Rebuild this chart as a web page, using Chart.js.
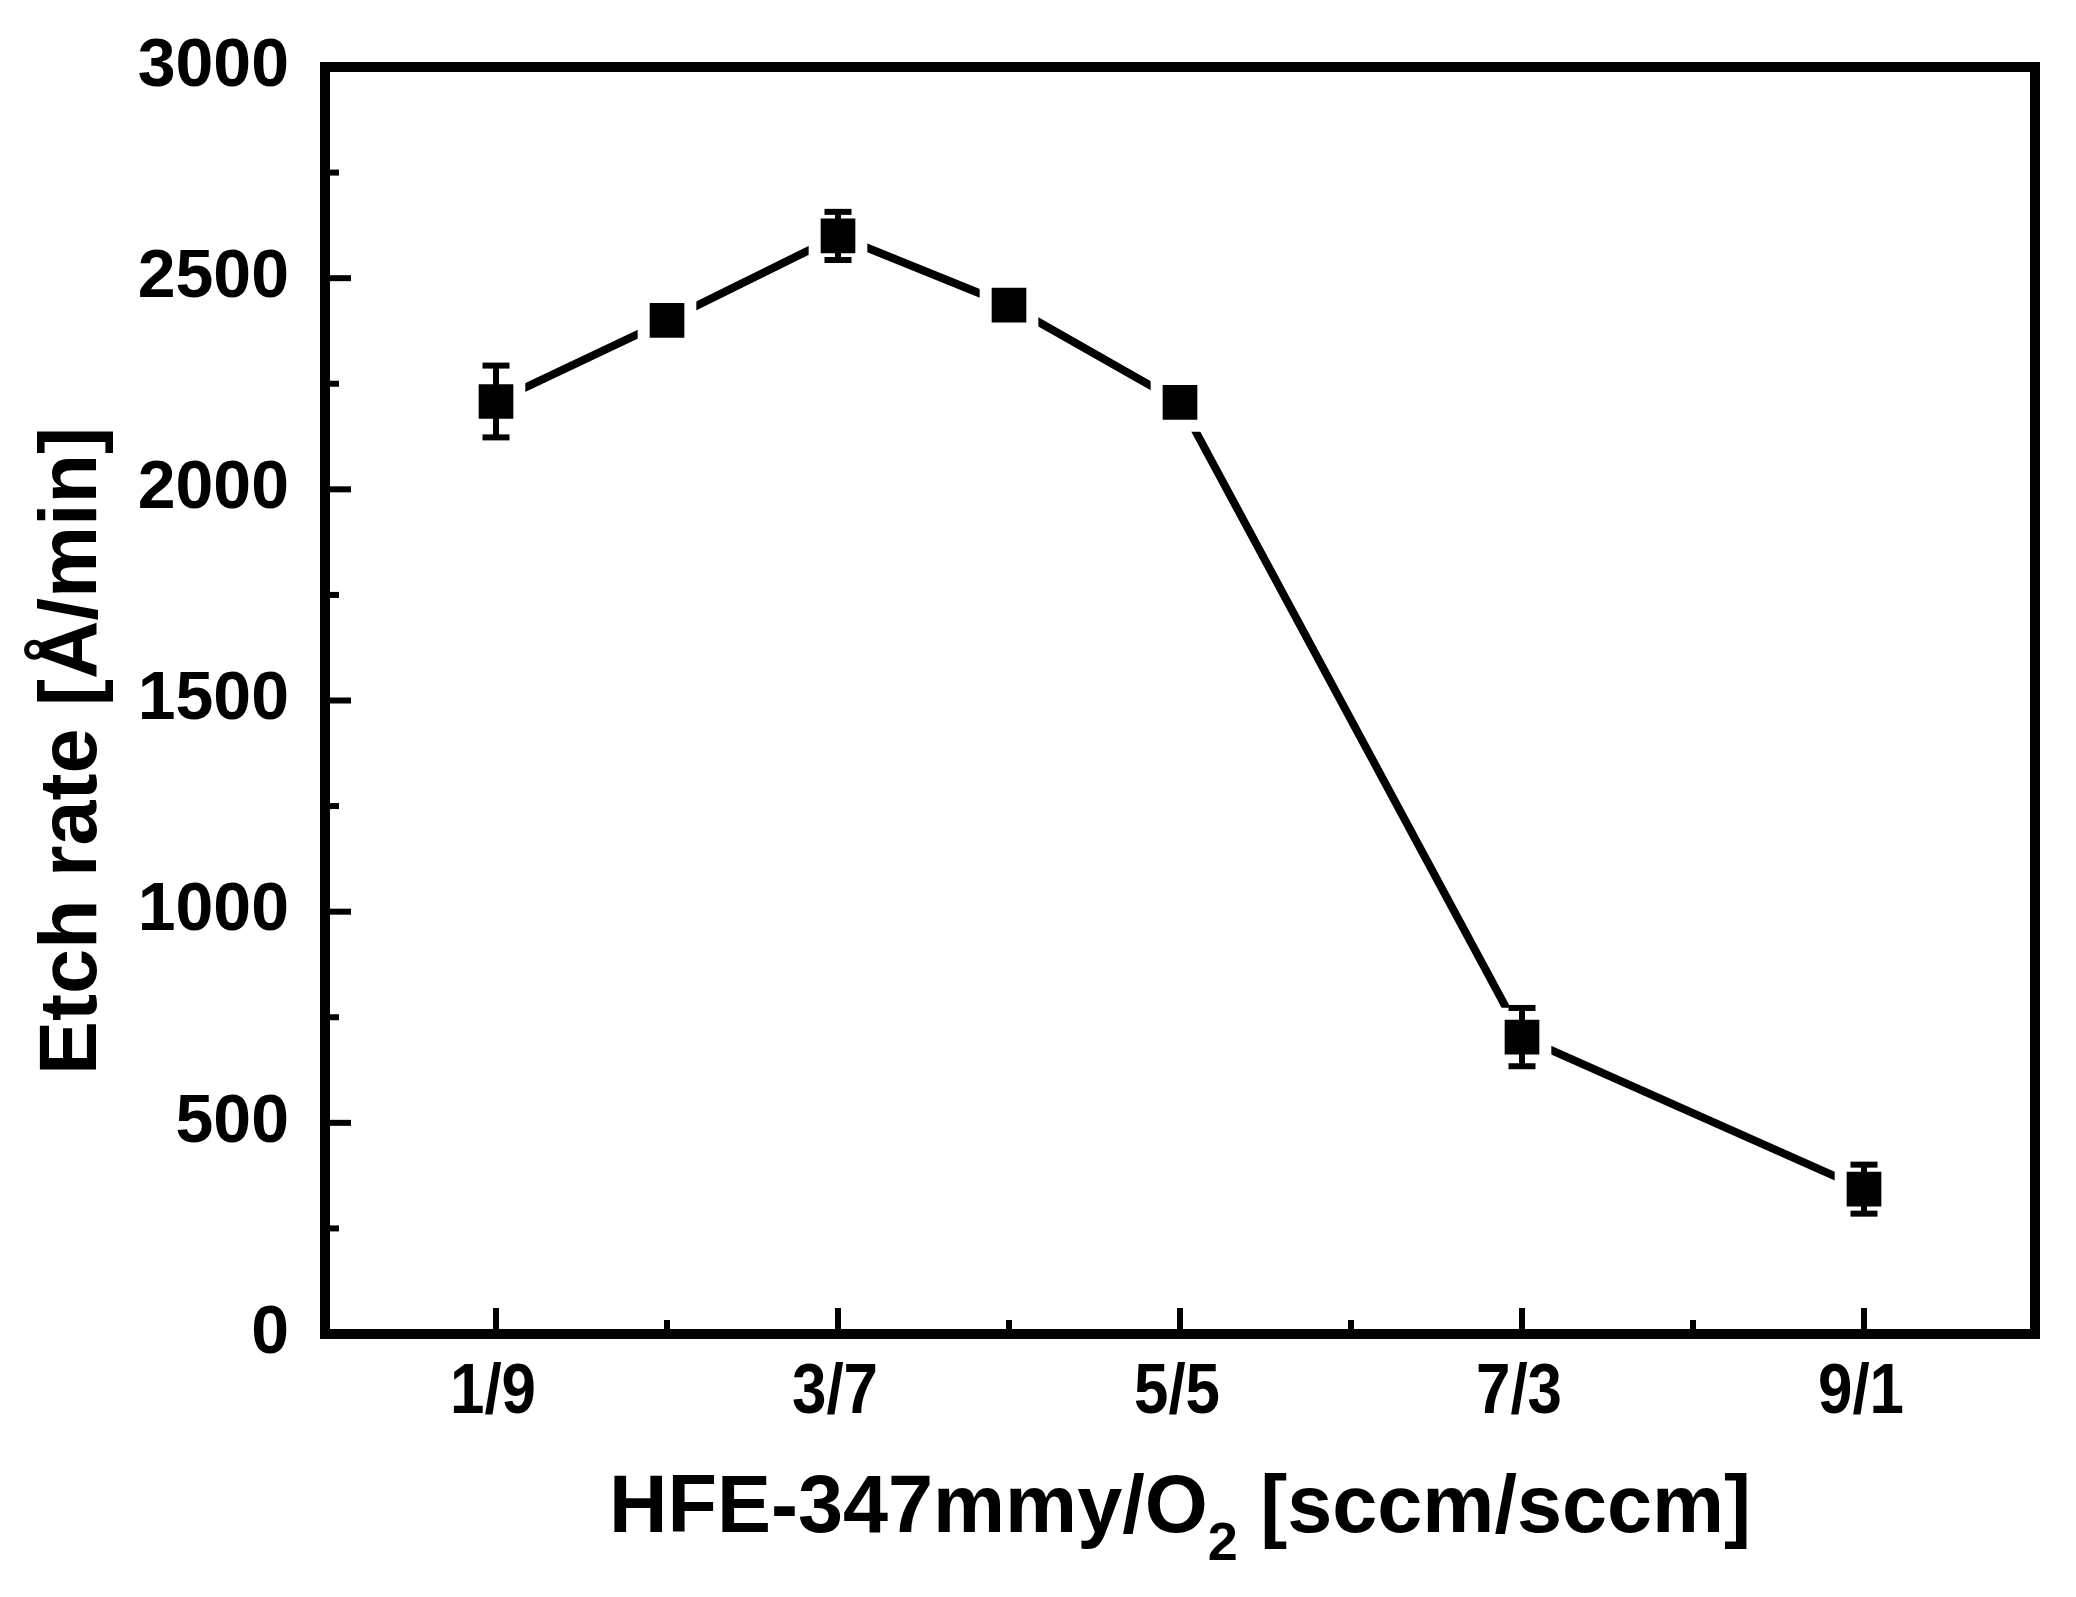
<!DOCTYPE html>
<html><head><meta charset="utf-8">
<script src="https://cdn.jsdelivr.net/npm/chart.js@4.4.1/dist/chart.umd.min.js"></script>
<style>html,body{margin:0;padding:0;background:#fff;overflow:hidden}#wrap{width:2076px;height:1597px;position:relative}</style>
</head><body><div id="wrap"><canvas id="c"></canvas></div>
<script>
// ---- data ----
const xPositions = [1, 2, 3, 4, 5, 7, 9];
const etchRate   = [2208, 2400, 2600, 2436, 2206, 703, 343];
const etchErr    = [85, 20, 57, 20, 25, 69, 58];
const xTickValues = [1, 3, 5, 7, 9];
const xTickLabels = ['1/9', '3/7', '5/5', '7/3', '9/1'];
const xMinorTicks = [2, 4, 6, 8];
const yMinorTicks = [250, 750, 1250, 1750, 2250, 2750];
const xTitleMain = 'HFE-347mmy/O';
const xTitleSub = '2';
const xTitleTail = ' [sccm/sccm]';
const yTitle = 'Etch rate [Å/min]';

const SANS = "'Liberation Sans',Arial,sans-serif";

// draw text condensed horizontally into a given width
function drawFit(ctx, text, x, y, targetW) {
  ctx.save();
  const nat = ctx.measureText(text).width;
  ctx.translate(x, y);
  ctx.scale(Math.min(1, targetW / nat), 1);
  ctx.fillText(text, 0, 0);
  ctx.restore();
}

const framePlugin = {
  id: 'frame',
  beforeDatasetsDraw(chart) {
    const {ctx, chartArea: a, scales: {x, y}} = chart;
    ctx.save();
    ctx.strokeStyle = '#000';
    ctx.fillStyle = '#000';
    const majL = 26, minL = 14, tw = 6;
    y.ticks.forEach(t => {
      const py = y.getPixelForValue(t.value);
      ctx.fillRect(a.left, py - tw / 2, majL, tw);
    });
    yMinorTicks.forEach(v => {
      const py = y.getPixelForValue(v);
      ctx.fillRect(a.left, py - tw / 2, minL, tw);
    });
    xTickValues.forEach(v => {
      const px = x.getPixelForValue(v);
      ctx.fillRect(px - tw / 2, a.bottom - majL, tw, majL);
    });
    xMinorTicks.forEach(v => {
      const px = x.getPixelForValue(v);
      ctx.fillRect(px - tw / 2, a.bottom - minL, tw, minL);
    });
    ctx.lineWidth = 10;
    ctx.lineJoin = 'miter';
    ctx.strokeRect(a.left, a.top, a.right - a.left, a.bottom - a.top);
    ctx.restore();
  }
};

const errorBarPlugin = {
  id: 'errbars',
  afterDatasetsDraw(chart) {
    const {ctx, scales: {x, y}} = chart;
    ctx.save();
    ctx.fillStyle = '#000';
    const sw = 6, capW = 27, capH = 6;
    xPositions.forEach((xv, i) => {
      const px = x.getPixelForValue(xv);
      const top = y.getPixelForValue(etchRate[i] + etchErr[i]);
      const bot = y.getPixelForValue(etchRate[i] - etchErr[i]);
      ctx.fillRect(px - sw / 2, top, sw, bot - top);
      ctx.fillRect(px - capW / 2, top - capH / 2, capW, capH);
      ctx.fillRect(px - capW / 2, bot - capH / 2, capW, capH);
    });
    ctx.restore();
  }
};

const textPlugin = {
  id: 'texts',
  afterDraw(chart) {
    const {ctx, chartArea: a, scales: {x}} = chart;
    ctx.save();
    ctx.fillStyle = '#000';
    ctx.textBaseline = 'alphabetic';
    ctx.textAlign = 'left';
    // x tick labels (condensed bold)
    ctx.font = "bold 70px " + SANS;
    xTickValues.forEach((v, i) => {
      const px = x.getPixelForValue(v);
      const w = 86;
      drawFit(ctx, xTickLabels[i], px - w / 2 - 3, 1413, w);
    });
    // x title
    const mainFont = "bold 81px " + SANS;
    const subFont = "bold 54px " + SANS;
    ctx.font = mainFont;
    const w1 = ctx.measureText(xTitleMain).width;
    const w3 = ctx.measureText(xTitleTail).width;
    ctx.font = subFont;
    const w2 = ctx.measureText(xTitleSub).width;
    const total = w1 + w2 + w3;
    const sx = (a.left + a.right) / 2 - total / 2;
    const baseY = 1532;
    ctx.font = mainFont;
    ctx.fillText(xTitleMain, sx, baseY);
    ctx.font = subFont;
    ctx.fillText(xTitleSub, sx + w1, baseY + 28);
    ctx.font = mainFont;
    ctx.fillText(xTitleTail, sx + w1 + w2, baseY);
    // y title
    ctx.translate(96, 751);
    ctx.rotate(-Math.PI / 2);
    ctx.font = "bold 81px " + SANS;
    ctx.textAlign = 'center';
    ctx.fillText(yTitle, 0, 0);
    ctx.restore();
  }
};

new Chart(document.getElementById('c'), {
  type: 'line',
  data: {
    datasets: [{
      data: xPositions.map((xv, i) => ({x: xv, y: etchRate[i]})),
      borderColor: '#000',
      borderWidth: 8,
      tension: 0,
      pointStyle: 'rect',
      pointRadius: 33,
      pointBackgroundColor: '#000',
      pointBorderColor: '#fff',
      pointBorderWidth: 12,
      pointHoverRadius: 33,
      clip: false
    }]
  },
  options: {
    responsive: true,
    maintainAspectRatio: false,
    animation: false,
    events: [],
    layout: {autoPadding: false, padding: {left: 0, top: 67, right: 41, bottom: 0}},
    plugins: {legend: {display: false}, tooltip: {enabled: false}},
    scales: {
      x: {
        type: 'linear', min: 0, max: 10,
        grid: {display: false, drawTicks: false},
        border: {display: false},
        afterFit(s) { s.height = 1597 - 1334; s.paddingLeft = 0; s.paddingRight = 0; },
        ticks: {
          display: false,
          stepSize: 1, autoSkip: false, maxRotation: 0
        }
      },
      y: {
        type: 'linear', min: 0, max: 3000,
        grid: {display: false, drawTicks: false},
        border: {display: false},
        afterFit(s) { s.width = 325; s.paddingTop = 0; s.paddingBottom = 0; },
        ticks: {
          stepSize: 500, padding: 36,
          color: '#000',
          font: {family: SANS, size: 68, weight: 'bold'},
          callback(v) { return String(v); }
        }
      }
    }
  },
  plugins: [framePlugin, errorBarPlugin, textPlugin]
});
</script>
</body></html>
